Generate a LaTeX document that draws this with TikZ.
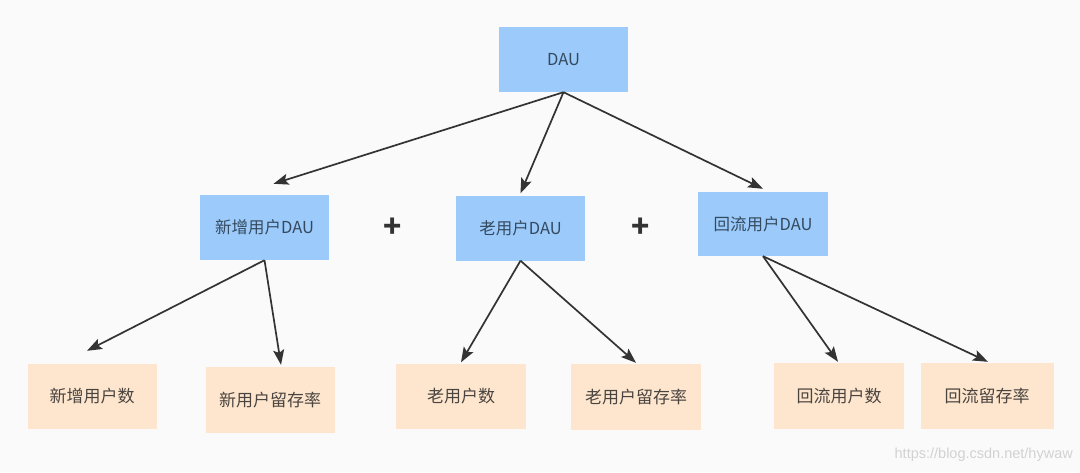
\documentclass[tikz,border=0pt]{standalone}
\usepackage{fontspec}
\setmainfont{Noto Sans CJK SC}
\newfontfamily\wmfont{Liberation Sans}
\usetikzlibrary{arrows.meta}
\definecolor{bgc}{HTML}{FAFAFA}
\definecolor{bluebox}{HTML}{9CCBFB}
\definecolor{orbox}{HTML}{FDE6CD}
\definecolor{bluetxt}{HTML}{34495E}
\definecolor{ortxt}{HTML}{4A4440}
\definecolor{arrc}{HTML}{333333}
\definecolor{wmc}{HTML}{D2D2D2}
\tikzset{
  bluenode/.style={fill=bluebox, draw=none, text=bluetxt, minimum height=65pt, inner sep=0pt, font=\fontsize{16.5}{19}\selectfont},
  ornode/.style={fill=orbox, draw=none, text=ortxt, minimum height=65pt, inner sep=0pt, font=\fontsize{17}{20}\selectfont},
  arr/.style={draw=arrc, line width=1.7pt, -{Stealth[length=15pt,width=11pt,inset=3pt]}},
  plussign/.style={text=arrc, font=\fontsize{30}{32}\selectfont\bfseries, inner sep=0pt}
}
\begin{document}
\begin{tikzpicture}[x=1pt,y=-1pt]
\fill[bgc] (0,0) rectangle (1080,472);
\useasboundingbox (0,0) rectangle (1080,472);
% top
\node[bluenode, minimum width=129pt] (dau) at (563.5,59.5) {DAU};
% middle
\node[bluenode, minimum width=129pt] (n1) at (264.5,227.5) {新增用户DAU};
\node[bluenode, minimum width=129pt] (n2) at (520.5,228) {老用户DAU};
\node[bluenode, minimum width=130pt, minimum height=64pt] (n3) at (763,224) {回流用户DAU};
\node[plussign] (p1) at (393,228) {+};
\node[plussign] (p2) at (641,228) {+};
% bottom
\node[ornode, minimum width=129pt] (b1) at (92,396.5) {新增用户数};
\node[ornode, minimum width=129pt, minimum height=66pt] (b2) at (270,400) {新用户留存率};
\node[ornode, minimum width=130pt] (b3) at (461,396) {老用户数};
\node[ornode, minimum width=130pt, minimum height=66pt] (b4) at (636,397) {老用户留存率};
\node[ornode, minimum width=130pt, minimum height=66pt] (b5) at (839,396) {回流用户数};
\node[ornode, minimum width=133pt, minimum height=66pt] (b6) at (987,396) {回流留存率};
% arrows
\draw[arr] (dau.south) -- ([xshift=9pt,yshift=11pt]n1.north);
\draw[arr] (dau.south) -- ([yshift=2pt]n2.north);
\draw[arr] (dau.south) -- ([yshift=3pt]n3.north);
\draw[arr] (n1.south) -- ([xshift=-5pt,yshift=13pt]b1.north);
\draw[arr] (n1.south) -- ([xshift=11pt,yshift=2pt]b2.north);
\draw[arr] (n2.south) -- ([yshift=1pt]b3.north);
\draw[arr] (n2.south) -- ([yshift=1pt]b4.north);
\draw[arr] (n3.south) -- ([xshift=-1pt,yshift=1pt]b5.north);
\draw[arr] (n3.south) -- ([xshift=1pt,yshift=1pt]b6.north);
% watermark
\node[anchor=east, text=wmc, inner sep=0pt, font=\wmfont\fontsize{14.5}{16}\selectfont] (wm) at (1073,455) {https://blog.csdn.net/hywaw};
\end{tikzpicture}
\end{document}
